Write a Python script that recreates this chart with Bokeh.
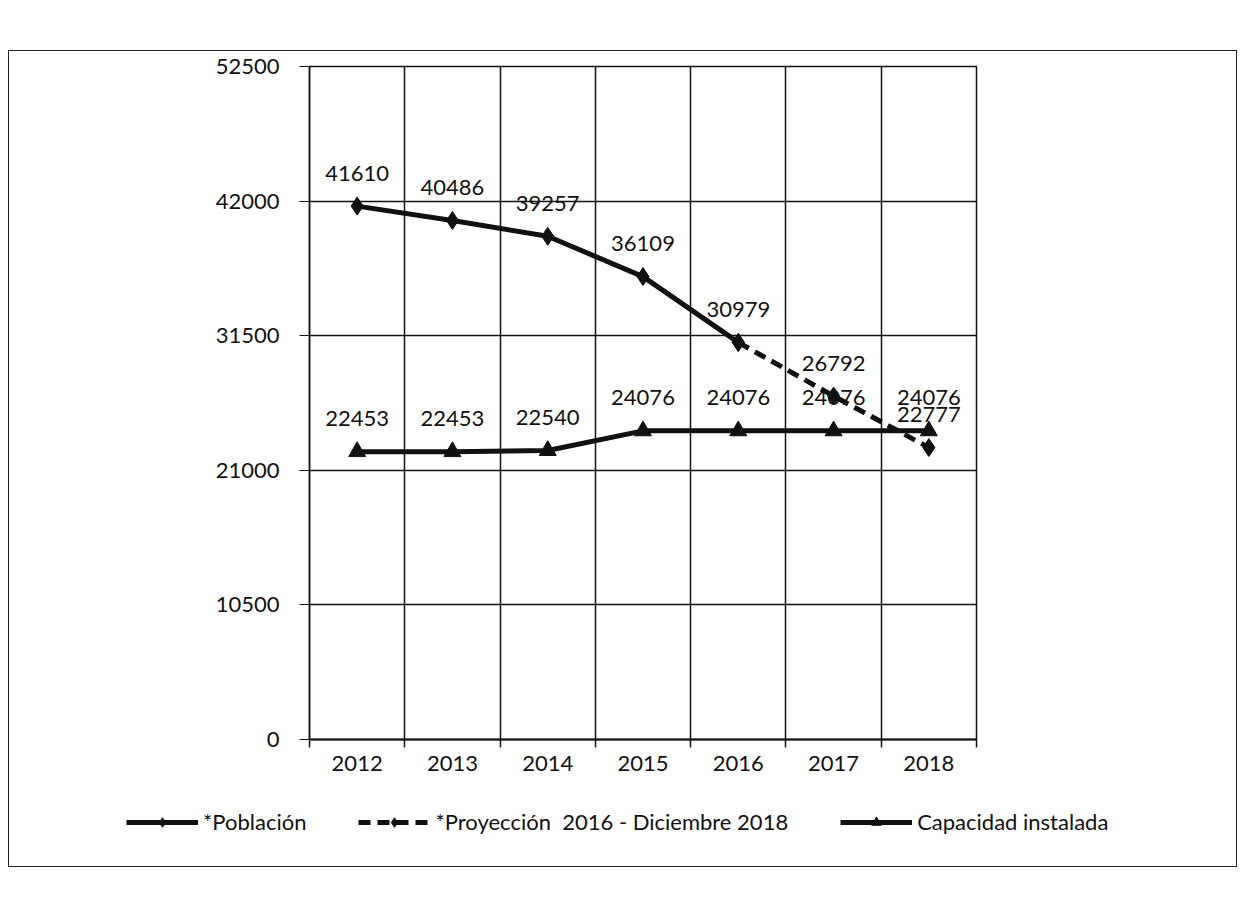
from bokeh.plotting import figure
from bokeh.layouts import column
from bokeh.models import FixedTicker, Range1d, Legend, LegendItem, ColumnDataSource, LabelSet
from bokeh.core.properties import value
from bokeh.embed import file_html
from bokeh.resources import INLINE

years = ["2012", "2013", "2014", "2015", "2016", "2017", "2018"]
poblacion = [41610, 40486, 39257, 36109, 30979]
poblacion_years = years[:5]
proyeccion = [30979, 26792, 22777]
proyeccion_years = years[4:]
capacidad = [22453, 22453, 22540, 24076, 24076, 24076, 24076]
y_ticks = [0, 10500, 21000, 31500, 42000, 52500]
series_names = ["*Población", "*Proyección  2016 - Diciembre 2018", "Capacidad instalada"]

FONT = "Lato"
INK = "#111"

def xpos(ylist):
    return [years.index(y) + 0.5 for y in ylist]

p = figure(frame_width=667, frame_height=673, output_backend="svg", toolbar_location=None,
           x_range=Range1d(0, len(years)), y_range=Range1d(0, 52500),
           min_border_left=300, min_border_right=260, min_border_top=15, min_border_bottom=45)
p.outline_line_color = INK
p.outline_line_width = 1.5
p.background_fill_color = "white"

# x axis
xt = FixedTicker(ticks=[i + 0.5 for i in range(len(years))], minor_ticks=list(range(len(years) + 1)))
p.xaxis.ticker = xt
p.xaxis.major_label_overrides = {i + 0.5: y for i, y in enumerate(years)}
p.xaxis.major_tick_line_alpha = 0
p.xaxis.minor_tick_out = 8
p.xaxis.minor_tick_in = 0
p.xaxis.minor_tick_line_color = INK
p.xaxis.minor_tick_line_width = 1.5
p.xaxis.axis_line_color = INK
p.xaxis.axis_line_width = 2
p.xaxis.major_label_standoff = 8
p.xgrid.ticker = FixedTicker(ticks=list(range(len(years) + 1)))
p.xgrid.grid_line_color = INK
p.xgrid.grid_line_width = 1.5

# y axis
p.yaxis.ticker = FixedTicker(ticks=y_ticks)
p.yaxis.major_tick_out = 10
p.yaxis.major_tick_in = 0
p.yaxis.minor_tick_line_alpha = 0
p.yaxis.axis_line_color = INK
p.yaxis.axis_line_width = 1.5
p.yaxis.major_tick_line_color = INK
p.yaxis.major_label_standoff = 20
p.ygrid.grid_line_color = INK
p.ygrid.grid_line_width = 1.5

for ax in (p.xaxis, p.yaxis):
    ax.major_label_text_font = FONT
    ax.major_label_text_font_size = "22px"
    ax.major_label_text_color = INK

# series
px = xpos(poblacion_years)
jx = xpos(proyeccion_years)
cx = xpos(years)

DASH = "12 7"
p.line(px, poblacion, line_width=5, line_color=INK)
p.scatter(px, poblacion, marker="diamond", size=18, color=INK)
p.line(jx, proyeccion, line_width=5, line_color=INK, line_dash=DASH)
p.scatter(jx, proyeccion, marker="diamond", size=18, color=INK)
p.line(cx, capacidad, line_width=5, line_color=INK)
p.scatter(cx, capacidad, marker="triangle", size=17, color=INK)

# labels
lab_x = px + jx[1:] + cx
lab_y = poblacion + proyeccion[1:] + capacidad
src = ColumnDataSource(dict(x=lab_x, y=lab_y, t=[str(v) for v in lab_y]))
labels = LabelSet(x="x", y="y", text="t", source=src, y_offset=33, text_align="center",
                  text_baseline="middle", text_font=value(FONT), text_font_size="22px",
                  text_color=INK)
p.add_layout(labels)

# legend strip (separate figure so the legend is not clipped)
lg = figure(width=1227, height=82, output_backend="svg", toolbar_location=None,
            x_range=Range1d(0, 1), y_range=Range1d(0, 1), x_axis_type=None, y_axis_type=None,
            min_border=0)
lg.outline_line_color = None
lg.xgrid.visible = False
lg.ygrid.visible = False
for fig in (p, lg):
    if "frame_align" in fig.properties():
        fig.frame_align = False

# proxy renderers outside the visible range, only used for the legend samples
off = [-5]
a1 = lg.line(off, off, line_width=5, line_color=INK)
a2 = lg.scatter(off, off, marker="diamond", size=14, color=INK)
b1 = lg.line(off, off, line_width=5, line_color=INK, line_dash=DASH)
b2 = lg.scatter(off, off, marker="diamond", size=14, color=INK)
c1 = lg.line(off, off, line_width=5, line_color=INK)
c2 = lg.scatter(off, off, marker="triangle", size=14, color=INK)

legend = Legend(items=[
    LegendItem(label=series_names[0], renderers=[a1, a2]),
    LegendItem(label=series_names[1], renderers=[b1, b2]),
    LegendItem(label=series_names[2], renderers=[c1, c2]),
], orientation="horizontal", location=(117, 31), glyph_width=72, glyph_height=24,
    label_text_font=FONT, label_text_font_size="22px", label_text_color=INK,
    border_line_alpha=0, spacing=52, label_standoff=5, margin=0, padding=0,
    background_fill_alpha=0)
lg.add_layout(legend, "center")

layout = column(p, lg, spacing=0)
layout.margin = (50, 0, 0, 8)
layout.styles = {"border": "1.5px solid #222"}

open("out.html", "w").write(file_html(layout, INLINE))
